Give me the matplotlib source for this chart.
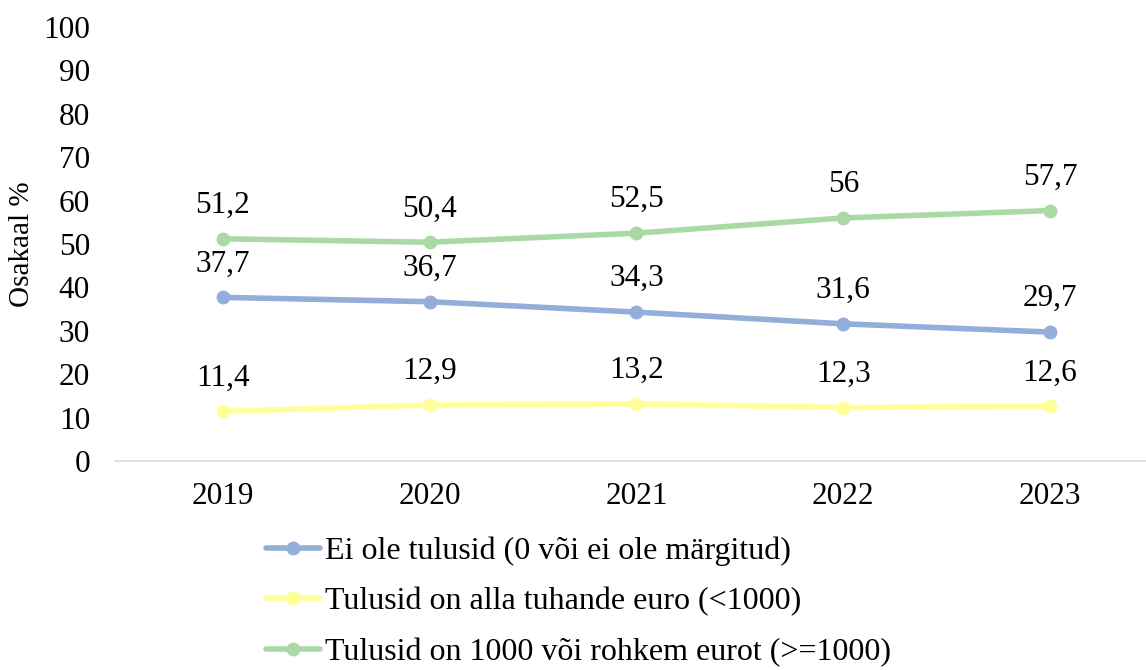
import matplotlib.pyplot as plt

# ── Data ─────────────────────────────────────────────────────────────────────
years = ["2019", "2020", "2021", "2022", "2023"]
no_income = [37.7, 36.7, 34.3, 31.6, 29.7]
under_1000 = [11.4, 12.9, 13.2, 12.3, 12.6]
over_1000 = [51.2, 50.4, 52.5, 56.0, 57.7]
series_labels = [
    "Ei ole tulusid (0 või ei ole märgitud)",
    "Tulusid on alla tuhande euro (<1000)",
    "Tulusid on 1000 või rohkem eurot (>=1000)",
]
colors = ["#92AED9", "#FFFF99", "#AAD9A6"]

plt.rcParams['font.family'] = ['Liberation Serif', 'DejaVu Serif']
FS = 22.5

fig = plt.figure(figsize=(11.46, 6.70), dpi=100)
ax = fig.add_axes([115 / 1146, 0.312, 1 - 115 / 1146, 0.9597 - 0.312])

x = list(range(len(years)))
for vals, col, lab in zip([no_income, under_1000, over_1000], colors, series_labels):
    ax.plot(x, vals, color=col, lw=4, marker='o', ms=9, label=lab,
            solid_capstyle='round')
    for xi, v in zip(x, vals):
        txt = f"{v:g}".replace('.', ',')
        ax.annotate(txt, (xi, v), xytext=(0, 24), textcoords='offset points',
                    ha='center', va='center', fontsize=FS)

ax.set_xlim(-0.522, 4.464)
ax.set_ylim(0, 100)
ax.set_yticks(range(0, 101, 10))
ax.set_xticks(x)
ax.set_xticklabels(years)
ax.tick_params(axis='both', length=0, labelsize=FS)
ax.tick_params(axis='x', pad=15.5)
ax.tick_params(axis='y', pad=18)
for s in ['top', 'right', 'left']:
    ax.spines[s].set_visible(False)
ax.spines['bottom'].set_color('#D9D9D9')
ax.spines['bottom'].set_linewidth(1.2)
ax.set_ylabel("Osakaal %", fontsize=21, labelpad=6)

fig.legend(loc='upper left', bbox_to_anchor=(266 / 1146, 0.199), ncol=1,
           frameon=False, fontsize=23, handlelength=1.7, handletextpad=0.15,
           labelspacing=0.66, borderpad=0, borderaxespad=0)

fig.savefig("out.png", dpi=100)
